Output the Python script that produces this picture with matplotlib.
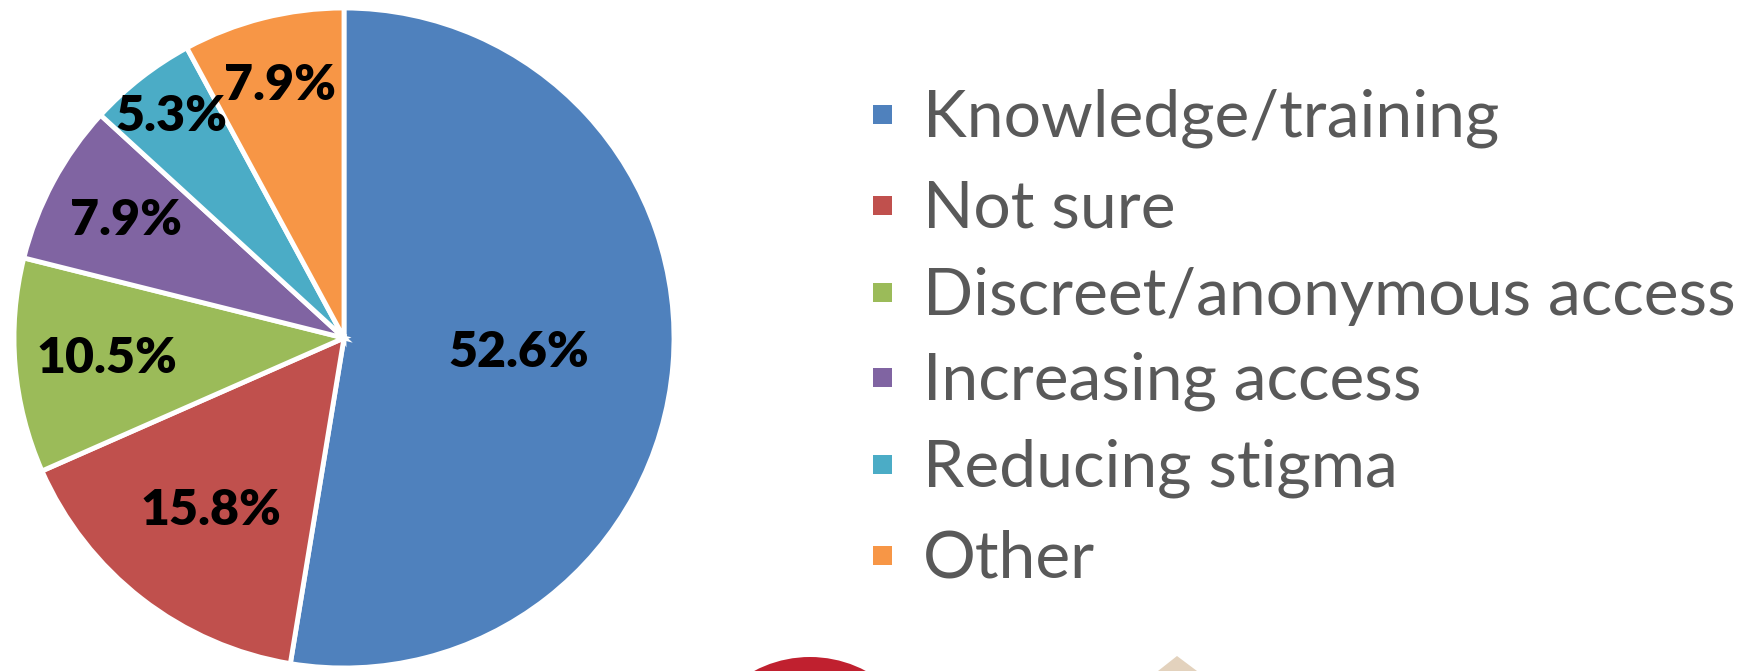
import matplotlib
matplotlib.use("Agg")
import matplotlib.pyplot as plt
from matplotlib.patches import Rectangle, Ellipse, Polygon
import numpy as np

categories = ["Knowledge/training", "Not sure", "Discreet/anonymous access",
              "Increasing access", "Reducing stigma", "Other"]
values = [52.6, 15.8, 10.5, 7.9, 5.3, 7.9]
pct_labels = ["52.6%", "15.8%", "10.5%", "7.9%", "5.3%", "7.9%"]
colors = ["#4F81BD", "#C0504D", "#9BBB59", "#8064A2", "#4BACC6", "#F79646"]
label_radius = [0.53, 0.66, 0.72, 0.75, 0.85, 0.79]

W, H = 1744, 671
fig = plt.figure(figsize=(W / 100, H / 100), dpi=100)
fig.patch.set_facecolor("white")

# pie axes: center (344, 338) px from top-left, radius 330 px
cx, cy, R = 344, 338, 330
half = 340
ax = fig.add_axes([(cx - half) / W, (H - cy - half) / H, 2 * half / W, 2 * half / H])
wedges, _ = ax.pie(values, colors=colors, startangle=90, counterclock=False,
                   radius=1.0, wedgeprops=dict(edgecolor="white", linewidth=3.5))
lim = half / R
ax.set_xlim(-lim, lim)
ax.set_ylim(-lim, lim)
ax.set_aspect("equal")
ax.axis("off")

for w, lab, r in zip(wedges, pct_labels, label_radius):
    ang = np.deg2rad((w.theta1 + w.theta2) / 2)
    ax.text(r * np.cos(ang), r * np.sin(ang), lab, ha="center", va="center",
            fontsize=36, fontweight="heavy", family="Lato", color="black")

# legend
row_y = [115, 206, 293, 378, 465, 556]
for name, col, y in zip(categories, colors, row_y):
    fig.patches.append(Rectangle((873 / W, (H - y - 9) / H), 19 / W, 19 / H,
                                 transform=fig.transFigure, facecolor=col,
                                 edgecolor="none"))
    fig.text(923 / W, (H - y - 3) / H, name, ha="left", va="center",
             fontsize=47.5, family="Lato", color="#595959")

# partially visible logos at the bottom edge
fig.patches.append(Ellipse((810 / W, (H - 776) / H), 238 / W, 238 / H,
                           transform=fig.transFigure, facecolor="#C0202F",
                           edgecolor="none"))
fig.patches.append(Polygon([(1158 / W, 0), (1177 / W, 15 / H), (1197 / W, 0)],
                           closed=True, transform=fig.transFigure,
                           facecolor="#E3D2BD", edgecolor="none"))

fig.savefig("out.png", dpi=100, facecolor="white")
